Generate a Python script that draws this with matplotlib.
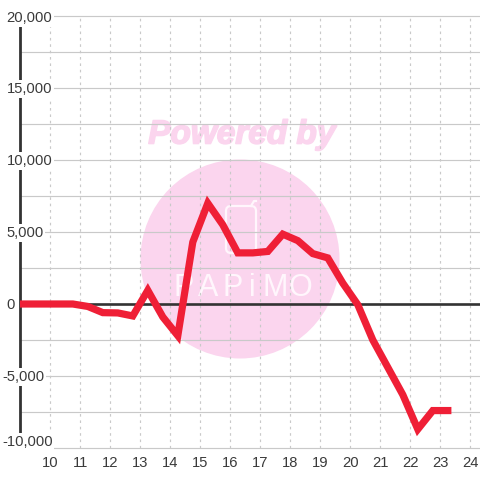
import matplotlib
matplotlib.use("Agg")
import matplotlib.pyplot as plt
import matplotlib.patheffects as pe
from matplotlib.patches import Circle, FancyBboxPatch
from matplotlib.transforms import blended_transform_factory

hours = [9, 9.75, 10.25, 10.75, 11.25, 11.75, 12.25, 12.75, 13.25, 13.75, 14.25, 14.75, 15.25,
         15.75, 16.25, 16.75, 17.25, 17.75, 18.25, 18.75, 19.25, 19.75, 20.25, 20.75,
         21.25, 21.75, 22.25, 22.75, 23.25]
values = [0, 0, 0, 0, -170, -600, -620, -830, 950, -900, -2200, 4300, 7000,
          5500, 3550, 3550, 3650, 4850, 4400, 3500, 3200, 1450, -50, -2500,
          -4400, -6300, -8700, -7400, -7400]
x_ticks = list(range(10, 25))
y_major = [-10000, -5000, 0, 5000, 10000, 15000, 20000]
y_labels = ['-10,000', '-5,000', '0', '5,000', '10,000', '15,000', '20,000']
y_minor = [-7500, -2500, 2500, 7500, 12500, 17500]

FONT = 'Liberation Sans'
TXT = '#3a3a3a'
GRID = '#c9c9c9'
PINK = '#fbd5ee'
LOGO = '#fff6fc'

fig = plt.figure(figsize=(4.8, 4.8), dpi=100, facecolor='white')
ax = fig.add_axes([20.3/480, 32/480, 459.7/480, 432/480])
ax.set_xlim(9, 9 + 459.7/30)
ax.set_ylim(-10000, 20000)
ax.patch.set_alpha(0)
for s in ('top', 'right', 'bottom'):
    ax.spines[s].set_visible(False)
ax.spines['left'].set_linewidth(2)
ax.spines['left'].set_color('#333333')
ax.spines['left'].set_bounds(-9170, 19440)
ax.spines['left'].set_zorder(3)
ax.tick_params(length=0)
ax.set_yticks([])
ax.set_xticks(x_ticks)
ax.set_xticklabels([str(t) for t in x_ticks], family=FONT, fontsize=10.6, color=TXT)
ax.tick_params(axis='x', pad=5.5)
for lab in ax.get_xticklabels():
    lab.set_x(lab.get_position()[0])

# watermark
wm = fig.add_axes([0, 0, 1, 1], zorder=-1)
wm.set_xlim(0, 480); wm.set_ylim(480, 0); wm.axis('off')
wm.add_patch(Circle((240, 259), 99.5, fc=PINK, ec='none'))
wm.text(242, 135, 'Powered by', ha='center', va='center', family=FONT, fontsize=24,
        weight='bold', style='italic', color=PINK,
        path_effects=[pe.withStroke(linewidth=1.2, foreground=PINK)])
wm.add_patch(FancyBboxPatch((226, 206), 30, 47, boxstyle='round,pad=0,rounding_size=5',
                            fc='none', ec=LOGO, lw=1.6))
wm.plot([251, 254, 256], [206, 201, 201], color=LOGO, lw=1.6)
for cx, ch in zip([184, 208, 233, 252, 275, 300], 'PAPiMO'):
    wm.text(cx, 288, ch, ha='center', va='center', family=FONT,
            fontsize=22, color=LOGO)

# grid
for v in y_major + y_minor:
    ax.axhline(v, color=GRID, lw=0.85, zorder=1, clip_on=False)
for t in x_ticks:
    ax.axvline(t, color=GRID, lw=0.85, ls=(0, (2.2, 3.2)), zorder=1)
ax.axhline(0, color='#333333', lw=1.9, zorder=2)

ax.plot(hours, values, color='#ef1f36', lw=5.2, solid_capstyle='projecting',
        solid_joinstyle='miter', zorder=5)

trans = blended_transform_factory(fig.transFigure, ax.transData)
for v, lab in zip(y_major, y_labels):
    x = (2 if v < 0 else 6.5) / 480
    dy = 6 if v == -10000 else (-2 if v == 20000 else -1)
    ax.annotate(lab, (x, v), xycoords=trans, xytext=(0, dy), textcoords='offset pixels',
                ha='left', va='center', family=FONT, fontsize=10.6, color=TXT, zorder=4,
                bbox=dict(fc='white', ec='none', pad=1.2))

fig.savefig('out.png', dpi=100)
